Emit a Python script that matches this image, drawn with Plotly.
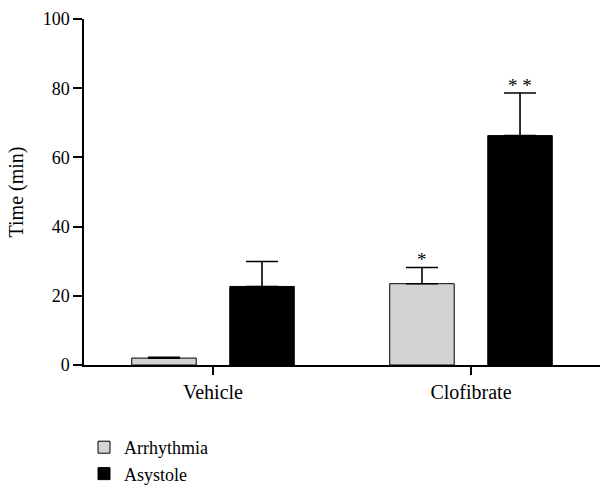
import plotly.graph_objects as go

categories = ["Vehicle", "Clofibrate"]
arrhythmia = [2.0, 23.5]
arrhythmia_err = [0.2, 4.7]
asystole = [22.7, 66.3]
asystole_err = [7.2, 12.3]
arrhythmia_sig = ["", "*"]
asystole_sig = ["", "* *"]
y_ticks = [0, 20, 40, 60, 80, 100]

FONT = "Liberation Serif"
BAR_W = 0.25

fig = go.Figure()
fig.add_trace(go.Bar(
    x=categories, y=arrhythmia, name="Arrhythmia",
    width=BAR_W, offset=-0.315,
    marker=dict(color="#d3d3d3", line=dict(color="black", width=1)),
    error_y=dict(type="data", array=arrhythmia_err, arrayminus=[0, 0],
                 symmetric=False, color="black", thickness=1.6, width=16),
))
fig.add_trace(go.Bar(
    x=categories, y=asystole, name="Asystole",
    width=BAR_W, offset=0.065,
    marker=dict(color="black", line=dict(color="black", width=1)),
    error_y=dict(type="data", array=asystole_err, arrayminus=[0, 0],
                 symmetric=False, color="black", thickness=1.6, width=16),
))

# significance markers
for i, cat in enumerate(categories):
    if arrhythmia_sig[i]:
        fig.add_annotation(x=cat, y=arrhythmia[i] + arrhythmia_err[i],
                           text=arrhythmia_sig[i], showarrow=False,
                           xshift=-0.19 * 258, yanchor="bottom", yshift=-5,
                           font=dict(family=FONT, size=19, color="black"))
    if asystole_sig[i]:
        fig.add_annotation(x=cat, y=asystole[i] + asystole_err[i],
                           text=asystole_sig[i], showarrow=False,
                           xshift=0.19 * 258, yanchor="bottom", yshift=-5,
                           font=dict(family=FONT, size=19, color="black"))

fig.update_layout(
    width=600, height=487,
    margin=dict(l=84, r=0, t=19, b=122, autoexpand=False),
    plot_bgcolor="white", paper_bgcolor="white",
    barmode="overlay",
    font=dict(family=FONT, size=18, color="black"),
    showlegend=True,
    legend=dict(x=0.0, y=-0.185, xanchor="left", yanchor="top",
                font=dict(family=FONT, size=18, color="black"),
                tracegroupgap=0, itemwidth=30),
    xaxis=dict(range=[-0.5, 1.5], showline=True, linecolor="black", linewidth=1.5,
               ticks="outside", ticklen=8, tickwidth=1.5, tickcolor="black",
               showgrid=False, zeroline=False, fixedrange=True, automargin=False,
               tickfont=dict(family=FONT, size=20, color="black")),
    yaxis=dict(range=[0, 100], tickvals=y_ticks, showline=True, linecolor="black",
               linewidth=1.5, ticks="outside", ticklen=9, tickwidth=1.5,
               tickcolor="black", showgrid=False, zeroline=False, automargin=False,
               title=dict(text="Time (min)", font=dict(family=FONT, size=20, color="black"),
                          standoff=14),
               tickfont=dict(family=FONT, size=18, color="black")),
)

fig.write_html("out.html", config={"displayModeBar": False},
               post_script="document.body.style.margin='0';document.body.style.overflow='hidden';")
